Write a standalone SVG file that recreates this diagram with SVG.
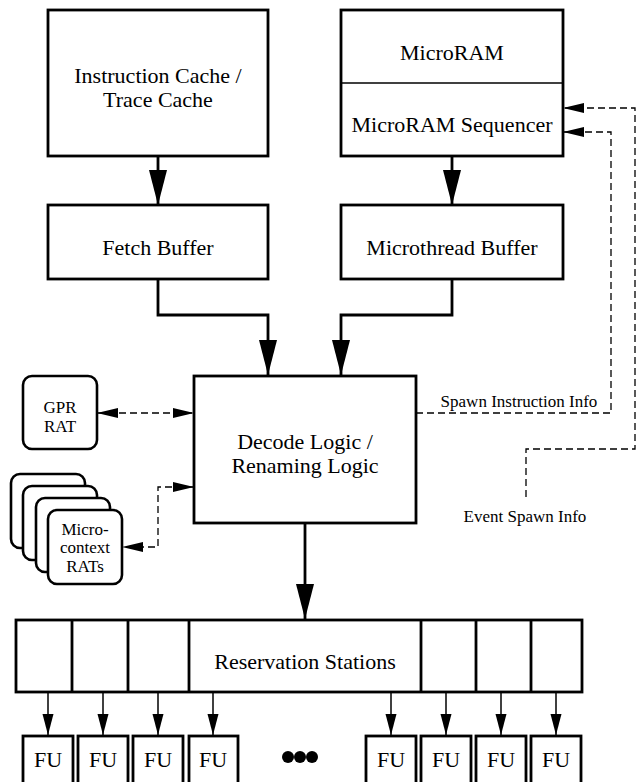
<svg xmlns="http://www.w3.org/2000/svg" width="638" height="782" viewBox="0 0 638 782">
<style>
  .box { fill: #fff; stroke: #000; stroke-width: 2.8; }
  .rbox { fill: #fff; stroke: #000; stroke-width: 2.6; }
  .thin { fill: none; stroke: #000; stroke-width: 1.5; }
  .thick { fill: none; stroke: #000; stroke-width: 2.8; }
  .dash { fill: none; stroke: #000; stroke-width: 1.3; stroke-dasharray: 7 4; }
  .big { font-family: "Liberation Serif", "Times New Roman", serif; font-size: 22px; text-anchor: middle; fill: #000; }
  .small { font-family: "Liberation Serif", "Times New Roman", serif; font-size: 17px; text-anchor: middle; fill: #000; }
</style>
<defs>
  <marker id="bigArrow" markerUnits="userSpaceOnUse" markerWidth="36" markerHeight="18" refX="35" refY="9" orient="auto">
    <path d="M0,0 L35,9 L0,18 z" fill="#000"/>
  </marker>
  <marker id="smallArrow" markerUnits="userSpaceOnUse" markerWidth="22" markerHeight="12" refX="21" refY="5.5" orient="auto">
    <path d="M0,0 L21,5.5 L0,11 z" fill="#000"/>
  </marker>
  <marker id="dashArrow" markerUnits="userSpaceOnUse" markerWidth="22" markerHeight="11" refX="21" refY="5" orient="auto-start-reverse">
    <path d="M0,0 L21,5 L0,10 z" fill="#000"/>
  </marker>
</defs>

<g id="connectors">
  <line class="thick" x1="158" y1="156" x2="158" y2="205" marker-end="url(#bigArrow)"/>
  <line class="thick" x1="452" y1="156" x2="452" y2="205" marker-end="url(#bigArrow)"/>
  <path class="thick" d="M158,279 V315 H268 V375" marker-end="url(#bigArrow)"/>
  <path class="thick" d="M452,279 V315 H341 V375" marker-end="url(#bigArrow)"/>
  <line class="thick" x1="305" y1="523" x2="305" y2="619" marker-end="url(#bigArrow)"/>
  <line class="dash" x1="97" y1="413" x2="194" y2="413" marker-start="url(#dashArrow)" marker-end="url(#dashArrow)"/>
  <path class="dash" d="M194,487 H158 V547 H122" marker-start="url(#dashArrow)" marker-end="url(#dashArrow)"/>
  <path class="dash" d="M416,413 H611 V132 H563" marker-end="url(#dashArrow)"/>
  <path class="dash" d="M526,497 V449 H635 V108 H563" marker-end="url(#dashArrow)"/>
  <line class="thin" x1="48" y1="692" x2="48" y2="735" marker-end="url(#smallArrow)"/>
  <line class="thin" x1="103" y1="692" x2="103" y2="735" marker-end="url(#smallArrow)"/>
  <line class="thin" x1="158" y1="692" x2="158" y2="735" marker-end="url(#smallArrow)"/>
  <line class="thin" x1="213" y1="692" x2="213" y2="735" marker-end="url(#smallArrow)"/>
  <line class="thin" x1="391" y1="692" x2="391" y2="735" marker-end="url(#smallArrow)"/>
  <line class="thin" x1="446" y1="692" x2="446" y2="735" marker-end="url(#smallArrow)"/>
  <line class="thin" x1="501" y1="692" x2="501" y2="735" marker-end="url(#smallArrow)"/>
  <line class="thin" x1="556" y1="692" x2="556" y2="735" marker-end="url(#smallArrow)"/>
  <text class="small" x="519" y="407">Spawn Instruction Info</text>
  <text class="small" x="525" y="522">Event Spawn Info</text>
</g>

<g id="icache">
  <rect class="box" x="48" y="10" width="220" height="146"/>
  <text class="big" x="158" y="83">Instruction Cache /</text>
  <text class="big" x="158" y="107">Trace Cache</text>
</g>

<g id="microram">
  <rect class="box" x="341" y="10" width="222" height="146"/>
  <line class="thin" x1="341" y1="83" x2="563" y2="83"/>
  <text class="big" x="452" y="60">MicroRAM</text>
  <text class="big" x="452" y="132">MicroRAM Sequencer</text>
</g>

<g id="fetchbuffer">
  <rect class="box" x="48" y="205" width="220" height="74"/>
  <text class="big" x="158" y="255">Fetch Buffer</text>
</g>

<g id="microthreadbuffer">
  <rect class="box" x="341" y="205" width="222" height="74"/>
  <text class="big" x="452" y="255">Microthread Buffer</text>
</g>

<g id="decode">
  <rect class="box" x="194" y="376" width="222" height="147"/>
  <text class="big" x="305" y="449">Decode Logic /</text>
  <text class="big" x="305" y="473">Renaming Logic</text>
</g>

<g id="gprrat">
  <rect class="rbox" x="23" y="376" width="74" height="73" rx="9"/>
  <text class="small" x="60" y="413">GPR</text>
  <text class="small" x="60" y="432">RAT</text>
</g>

<g id="microcontextrats">
  <rect class="rbox" x="11" y="474" width="74" height="74" rx="9"/>
  <rect class="rbox" x="23" y="486" width="74" height="74" rx="9"/>
  <rect class="rbox" x="36" y="498" width="74" height="74" rx="9"/>
  <rect class="rbox" x="48" y="510" width="74" height="74" rx="9"/>
  <text class="small" x="85" y="535">Micro-</text>
  <text class="small" x="85" y="553">context</text>
  <text class="small" x="85" y="572">RATs</text>
</g>

<g id="reservationstations">
  <rect class="box" x="16" y="620" width="566" height="72"/>
  <line class="thick" x1="72" y1="620" x2="72" y2="692"/>
  <line class="thick" x1="128" y1="620" x2="128" y2="692"/>
  <line class="thick" x1="189" y1="620" x2="189" y2="692"/>
  <line class="thick" x1="421" y1="620" x2="421" y2="692"/>
  <line class="thick" x1="476" y1="620" x2="476" y2="692"/>
  <line class="thick" x1="531" y1="620" x2="531" y2="692"/>
  <text class="big" x="305" y="669">Reservation Stations</text>
</g>

<g id="fu1"><rect class="box" x="23" y="736" width="50" height="60"/><text class="big" x="48" y="767">FU</text></g>
<g id="fu2"><rect class="box" x="78" y="736" width="50" height="60"/><text class="big" x="103" y="767">FU</text></g>
<g id="fu3"><rect class="box" x="133" y="736" width="50" height="60"/><text class="big" x="158" y="767">FU</text></g>
<g id="fu4"><rect class="box" x="189" y="736" width="49" height="60"/><text class="big" x="213" y="767">FU</text></g>
<g id="fu5"><rect class="box" x="366" y="736" width="50" height="60"/><text class="big" x="391" y="767">FU</text></g>
<g id="fu6"><rect class="box" x="421" y="736" width="50" height="60"/><text class="big" x="446" y="767">FU</text></g>
<g id="fu7"><rect class="box" x="476" y="736" width="50" height="60"/><text class="big" x="501" y="767">FU</text></g>
<g id="fu8"><rect class="box" x="531" y="736" width="50" height="60"/><text class="big" x="556" y="767">FU</text></g>

<g id="ellipsis">
  <circle cx="288" cy="757" r="6" fill="#000"/>
  <circle cx="300" cy="757" r="6" fill="#000"/>
  <circle cx="312" cy="757" r="6" fill="#000"/>
</g>
</svg>
